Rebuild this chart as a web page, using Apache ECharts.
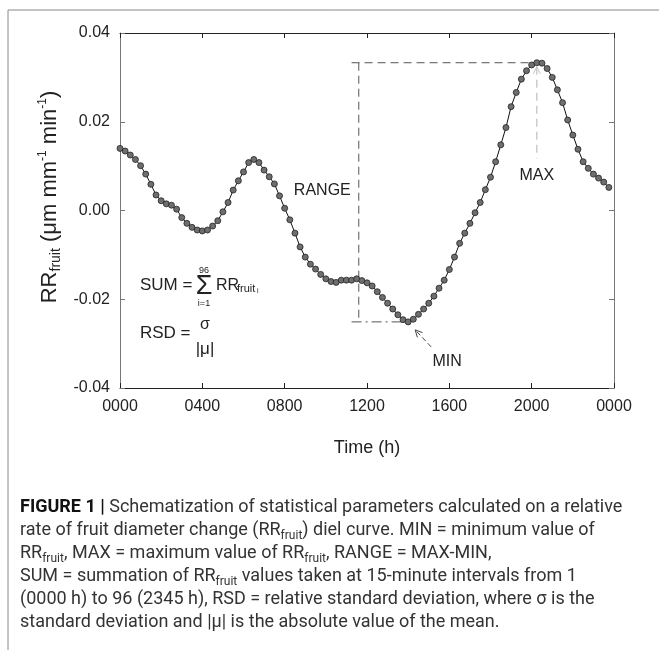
<!DOCTYPE html>
<html><head><meta charset="utf-8">
<script src="https://cdn.jsdelivr.net/npm/echarts@6/dist/echarts.min.js"></script>
<style>html,body{margin:0;padding:0;background:#fff}#c{width:659px;height:650px}</style>
</head><body><div id="c"></div>
<script>
// RR_fruit values every 15 minutes, 0000 h .. 2345 h (96 samples)
const rrFruit = [
  0.0140, 0.0134, 0.0125, 0.0115, 0.0101, 0.0082, 0.0059, 0.0035,
  0.0022, 0.0015, 0.0012, 0.0003, -0.0016, -0.0029, -0.0038, -0.0044,
  -0.0046, -0.0044, -0.0035, -0.0023, -0.0003, 0.0018, 0.0046, 0.0067,
  0.0087, 0.0108, 0.0115, 0.0108, 0.0091, 0.0076, 0.0060, 0.0033,
  0.0005, -0.0021, -0.0051, -0.0082, -0.0105, -0.0121, -0.0132, -0.0144,
  -0.0154, -0.0160, -0.0162, -0.0157, -0.0157, -0.0157, -0.0154, -0.0158,
  -0.0163, -0.0170, -0.0183, -0.0196, -0.0209, -0.0222, -0.0235, -0.0246,
  -0.0251, -0.0245, -0.0234, -0.0222, -0.0209, -0.0193, -0.0175, -0.0157,
  -0.0133, -0.0105, -0.0074, -0.0051, -0.0029, -0.0005, 0.0018, 0.0047,
  0.0075, 0.0110, 0.0148, 0.0187, 0.0234, 0.0266, 0.0296, 0.0315,
  0.0328, 0.0333, 0.0332, 0.0320, 0.0300, 0.0272, 0.0243, 0.0204,
  0.0170, 0.0138, 0.0110, 0.0095, 0.0082, 0.0073, 0.0064, 0.0052
];
const sampleStepHours = 0.25;
const xTickLabels = ['0000', '0400', '0800', '1200', '1600', '2000', '0000'];
const yTickLabels = ['-0.04', '-0.02', '0.00', '0.02', '0.04'];
const xAxisTitle = 'Time (h)';
const annotationLabels = { range: 'RANGE', min: 'MIN', max: 'MAX' };
// annotation anchor positions (data units: hours, RR)
const rangeLineHour = 11.6;
const rangeLeftHour = 11.25;
const maxArrowBottomValue = 0.0118;

const captionLines = [
  '{b|FIGURE 1 | }{n|Schematization of statistical parameters calculated on a relative}',
  '{n|rate of fruit diameter change (RR}{s|fruit}{n|) diel curve. MIN = minimum value of}',
  '{n|RR}{s|fruit}{n|, MAX = maximum value of RR}{s|fruit}{n|, RANGE = MAX-MIN,}',
  '{n|SUM = summation of RR}{s|fruit}{n| values taken at 15-minute intervals from 1}',
  '{n|(0000 h) to 96 (2345 h), RSD = relative standard deviation, where σ is the}',
  '{n|standard deviation and |μ| is the absolute value of the mean.}'
];

const FONT = '"Liberation Sans", Arial, sans-serif';
const CAPFONT = 'Roboto, "Liberation Sans", sans-serif';
const chart = echarts.init(document.getElementById('c'), null, { renderer: 'canvas' });
const seriesData = rrFruit.map((v, i) => [i * sampleStepHours, v]);
const maxVal = Math.max(...rrFruit), minVal = Math.min(...rrFruit);
const maxIdx = rrFruit.indexOf(maxVal), minIdx = rrFruit.indexOf(minVal);

const axisCommonX = {
  type: 'value', min: 0, max: 24, interval: 4,
  axisLine: { show: true, onZero: false, lineStyle: { color: '#222', width: 1 } },
  axisTick: { show: true, inside: true, length: 5, lineStyle: { color: '#222' } },
  splitLine: { show: false }
};
const axisCommonY = {
  type: 'value', min: -0.04, max: 0.04, interval: 0.02,
  axisLine: { show: true, onZero: false, lineStyle: { color: '#777', width: 1 } },
  axisTick: { show: true, inside: true, length: 5, lineStyle: { color: '#777' } },
  splitLine: { show: false }
};

chart.setOption({
  animation: false,
  backgroundColor: '#fff',
  textStyle: { fontFamily: FONT },
  grid: { left: 120, right: 45, top: 33, bottom: 262 },
  xAxis: [
    Object.assign({}, axisCommonX, {
      position: 'bottom',
      axisLabel: { show: true, fontSize: 16, color: '#222', margin: 11, fontFamily: FONT,
        formatter: v => xTickLabels[Math.round(v / 4)] },
      name: xAxisTitle, nameLocation: 'middle', nameGap: 51,
      nameTextStyle: { fontSize: 18, color: '#222', fontFamily: FONT }
    }),
    Object.assign({}, axisCommonX, { position: 'top', axisLabel: { show: false } })
  ],
  yAxis: [
    Object.assign({}, axisCommonY, {
      position: 'left',
      axisLabel: { show: true, fontSize: 16, color: '#222', margin: 10, fontFamily: FONT,
        formatter: v => yTickLabels[Math.round((v + 0.04) / 0.02)] }
    }),
    Object.assign({}, axisCommonY, { position: 'right', axisLabel: { show: false } })
  ],
  series: [{
    type: 'line',
    data: seriesData,
    xAxisIndex: 0, yAxisIndex: 0,
    symbol: 'circle', symbolSize: 6, showSymbol: true,
    lineStyle: { color: '#111', width: 1 },
    itemStyle: { color: '#6e6e6e', borderColor: '#222', borderWidth: 0.8 },
    z: 5
  }]
});

const toPx = (p) => chart.convertToPixel({ xAxisIndex: 0, yAxisIndex: 0 }, p);
const pMax = toPx([maxIdx * sampleStepHours, maxVal]);
const pMin = toPx([minIdx * sampleStepHours, minVal]);
const pTopV = toPx([rangeLineHour, maxVal]);
const pBotV = toPx([rangeLineHour, minVal]);
const pTopL = toPx([rangeLeftHour, maxVal]);
const pBotL = toPx([rangeLeftHour, minVal]);
const pMaxArrowBottom = toPx([maxIdx * sampleStepHours, maxArrowBottomValue]);
const gLeft = toPx([0, 0])[0];
const gZeroY = toPx([0, 0])[1];

function line(x1, y1, x2, y2, stroke, dash, w) {
  return { type: 'line', silent: true, z: 3,
    shape: { x1, y1, x2, y2 },
    style: { stroke, lineWidth: w || 1, lineDash: dash || null } };
}
function chevron(tip, dir, len, half, stroke) {
  const dx = dir[0], dy = dir[1];
  const bx = tip[0] - dx * len, by = tip[1] - dy * len;
  const px = -dy, py = dx;
  return { type: 'polyline', silent: true, z: 3,
    shape: { points: [[bx + px * half, by + py * half], tip, [bx - px * half, by - py * half]] },
    style: { stroke, lineWidth: 1, fill: null } };
}
function txt(x, y, text, size, opts) {
  return Object.assign({ type: 'text', silent: true, z: 6, x, y,
    style: Object.assign({ text, font: size + 'px ' + FONT, fill: '#222',
      align: 'left', verticalAlign: 'middle' }, (opts && opts.style) || {}) },
    opts && opts.el || {});
}

// MIN arrow geometry (pixel offsets relative to min point)
const minStart = [pMin[0] + 23, pMin[1] + 25];
const minEnd = [pMin[0] + 7, pMin[1] + 8];
const mdx = minEnd[0] - minStart[0], mdy = minEnd[1] - minStart[1];
const mlen = Math.hypot(mdx, mdy);

const sumX = gLeft + 20, sumY = gZeroY + 75;
const rsdY = gZeroY + 123;

const graphics = [
  // figure frame
  line(8, 10, 659, 10, '#888', null, 1),
  line(8, 10, 8, 650, '#888', null, 1),
  // RANGE construction
  line(pTopL[0], pTopL[1], pMax[0] - 3, pMax[1], '#555', [8, 5], 1),
  line(pTopV[0], pTopV[1], pBotV[0], pBotV[1], '#555', [8, 5], 1),
  line(pBotL[0], pBotL[1], pMin[0] - 4, pMin[1], '#555', [10, 4, 2, 4], 1),
  // MAX arrow
  line(pMax[0], pMax[1] + 4, pMax[0], pMaxArrowBottom[1], '#c4c4c4', [8, 5], 1.3),
  chevron([pMax[0], pMax[1] + 4], [0, -1], 7, 3.5, '#c4c4c4'),
  // MIN arrow
  line(minStart[0], minStart[1], minEnd[0], minEnd[1], '#444', [5, 3], 1),
  chevron(minEnd, [mdx / mlen, mdy / mlen], 7, 3.5, '#444'),
  // labels
  txt(pTopV[0] - 8, (pTopV[1] + pBotV[1]) / 2 - 2, annotationLabels.range, 16, { style: { align: 'right' } }),
  txt(pMax[0], pMaxArrowBottom[1] + 17, annotationLabels.max, 16, { style: { align: 'center' } }),
  txt(pMin[0] + 39, pMin[1] + 40, annotationLabels.min, 16, { style: { align: 'center' } }),
  // SUM formula
  txt(sumX, sumY, 'SUM =', 17),
  txt(sumX + 64, sumY + 1, 'Σ', 27, { style: { align: 'center' } }),
  txt(sumX + 64, sumY - 15, '96', 9, { style: { align: 'center' } }),
  txt(sumX + 64, sumY + 18, 'i=1', 9, { style: { align: 'center' } }),
  txt(sumX + 76, sumY, 'RR', 16),
  txt(sumX + 97, sumY + 3, 'fruit', 11),
  txt(sumX + 117, sumY + 6, 'i', 7),
  // RSD formula
  txt(sumX, rsdY, 'RSD =', 17),
  txt(sumX + 65, rsdY - 9, 'σ', 16, { style: { align: 'center' } }),
  txt(sumX + 65, rsdY + 16, '|μ|', 17, { style: { align: 'center' } }),
  // y-axis title (rotated, rich text)
  {
    type: 'text', silent: true, x: 50, y: 197, rotation: Math.PI / 2,
    style: {
      text: '{m|RR}{s|fruit}{m| (μm mm}{p|-1}{m| min}{p|-1}{m|)}',
      align: 'center', verticalAlign: 'middle', fill: '#222',
      rich: {
        m: { fontSize: 22, fontFamily: FONT, lineHeight: 26, fill: '#222' },
        s: { fontSize: 14, fontFamily: FONT, lineHeight: 13, verticalAlign: 'bottom', fill: '#222' },
        p: { fontSize: 12, fontFamily: FONT, lineHeight: 13, verticalAlign: 'top', fill: '#222' }
      }
    }
  },
  // caption
  {
    type: 'text', silent: true, x: 20, y: 496,
    style: {
      text: captionLines.join('\n'),
      align: 'left', verticalAlign: 'top', fill: '#333',
      rich: {
        b: { fontSize: 18, fontFamily: CAPFONT, fontWeight: 'bold', lineHeight: 23, fill: '#111' },
        n: { fontSize: 18, fontFamily: CAPFONT, lineHeight: 23, fill: '#333' },
        s: { fontSize: 12, fontFamily: CAPFONT, lineHeight: 12, verticalAlign: 'bottom', fill: '#333' }
      }
    }
  }
];
chart.setOption({ graphic: graphics });
</script>
</body></html>
